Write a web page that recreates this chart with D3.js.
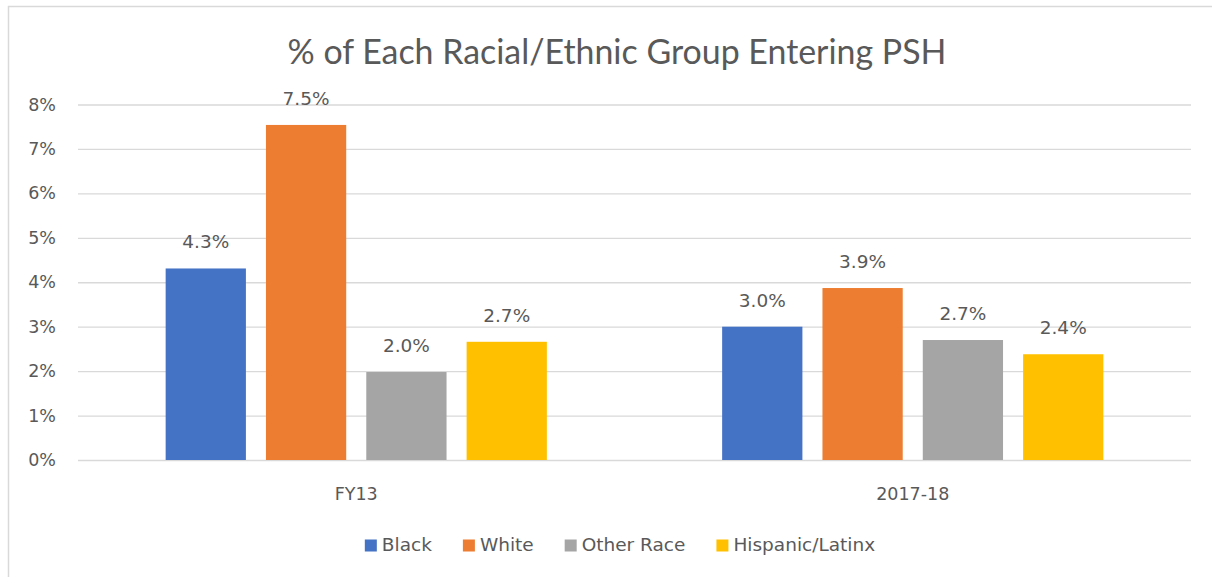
<!DOCTYPE html>
<html>
<head>
<meta charset="utf-8">
<script src="https://cdn.jsdelivr.net/npm/d3@7"></script>
<style>
  html, body { margin: 0; padding: 0; background: #fff; }
  svg { display: block; }
  text { font-family: "DejaVu Sans", sans-serif; fill: #595959; }
</style>
</head>
<body>
<svg id="chart" width="1212" height="577"></svg>
<script>
// ---- data ----
const title = "% of Each Racial/Ethnic Group Entering PSH";
const categories = ["FY13", "2017-18"];
const seriesNames = ["Black", "White", "Other Race", "Hispanic/Latinx"];
const seriesColors = ["#4472C4", "#ED7D31", "#A5A5A5", "#FFC000"];
const blackValues = [4.31, 3.0];
const whiteValues = [7.54, 3.87];
const otherValues = [1.98, 2.7];
const hispanicValues = [2.66, 2.38];
const yTicks = [0, 1, 2, 3, 4, 5, 6, 7, 8];

const seriesValues = [blackValues, whiteValues, otherValues, hispanicValues];

// ---- layout ----
const svg = d3.select("#chart");
const W = 1212, H = 577;
const plot = { left: 78, right: 1191, top: 104.5, bottom: 460 };

// border
svg.append("rect")
  .attr("x", 8.5).attr("y", 6.5)
  .attr("width", W + 10).attr("height", H + 10)
  .attr("fill", "#fff").attr("stroke", "#D9D9D9").attr("stroke-width", 1.5);

const y = d3.scaleLinear().domain([0, 8]).range([plot.bottom, plot.top]);
const x0 = d3.scaleBand().domain(categories)
  .range([plot.left, plot.right]).paddingInner(0.315).paddingOuter(0.1575);
const x1 = d3.scaleBand().domain(seriesNames)
  .range([0, x0.bandwidth()]).paddingInner(0.2).paddingOuter(0);

// gridlines + y axis labels
const yAxis = d3.axisLeft(y).tickValues(yTicks).tickFormat(d => d + "%")
  .tickSize(-(plot.right - plot.left)).tickPadding(22);
const gy = svg.append("g").attr("transform", `translate(${plot.left},0)`).call(yAxis);
gy.select(".domain").remove();
gy.selectAll(".tick line").attr("stroke", "#D9D9D9").attr("stroke-width", 1.3);
gy.selectAll(".tick text").style("font-size", "17.5px").attr("fill", "#595959")
  .style("font-family", "'DejaVu Sans', sans-serif");

// bars
const groups = svg.append("g").selectAll("g").data(categories).join("g")
  .attr("transform", d => `translate(${x0(d)},0)`);

groups.each(function(cat, ci) {
  const g = d3.select(this);
  seriesNames.forEach((s, si) => {
    const v = seriesValues[si][ci];
    g.append("rect")
      .attr("x", x1(s)).attr("width", x1.bandwidth())
      .attr("y", y(v)).attr("height", y(0) - y(v))
      .attr("fill", seriesColors[si]);
    g.append("text")
      .attr("x", x1(s) + x1.bandwidth() / 2)
      .attr("y", y(v) - 20)
      .attr("text-anchor", "middle")
      .style("font-size", "18.5px")
      .text(v.toFixed(1) + "%");
  });
});

// x axis categories
const xAxis = d3.axisBottom(x0).tickSize(0).tickPadding(28);
const gx = svg.append("g").attr("transform", `translate(0,${plot.bottom})`).call(xAxis);
gx.select(".domain").remove();
gx.selectAll(".tick text").style("font-size", "17.5px").attr("fill", "#595959")
  .style("font-family", "'DejaVu Sans', sans-serif");

// title
const t = svg.append("text")
  .attr("x", 617).attr("y", 64)
  .attr("text-anchor", "middle")
  .style("font-family", "Lato, sans-serif")
  .style("font-size", "27px")
  .text(title);
const tw = t.node().getComputedTextLength();
t.style("font-size", (27 * 659 / tw).toFixed(2) + "px");

// legend
const legend = svg.append("g");
let lx = 0;
const gap = 31;
seriesNames.forEach((s, i) => {
  const gi = legend.append("g");
  gi.append("rect").attr("x", 0).attr("y", -11.5).attr("width", 12).attr("height", 12)
    .attr("fill", seriesColors[i]);
  const tx = gi.append("text").attr("x", 17).attr("y", 0).style("font-size", "18.5px").text(s);
  const w = 17 + tx.node().getComputedTextLength();
  gi.attr("transform", `translate(${lx},0)`);
  lx += w + gap;
});
const totalW = lx - gap;
legend.attr("transform", `translate(${620 - totalW / 2},551)`);
</script>
</body>
</html>
